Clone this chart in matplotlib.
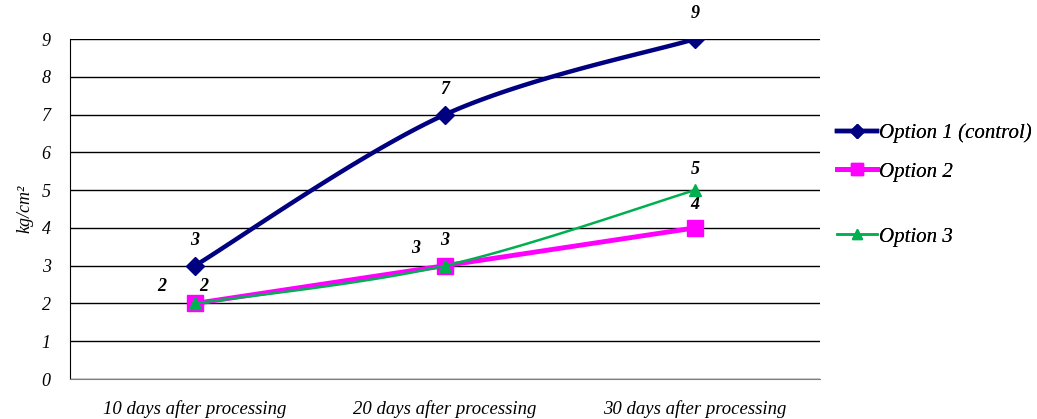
import numpy as np
import matplotlib.pyplot as plt
from matplotlib.lines import Line2D

plt.rcParams['font.family'] = ['Liberation Serif', 'DejaVu Serif']

categories = ["10 days after processing", "20 days after processing", "30 days after processing"]
option1 = [3, 7, 9]
option2 = [2, 3, 4]
option3 = [2, 3, 5]
series_names = ["Option 1 (control)", "Option 2", "Option 3"]


# smooth curve through the points, like a spreadsheet "smoothed line"
def smooth(x, y, n=60, tension=0.5):
    x = np.asarray(x, float)
    y = np.asarray(y, float)
    px = np.concatenate(([x[0]], x, [x[-1]]))
    py = np.concatenate(([y[0]], y, [y[-1]]))
    xs, ys = [], []
    for i in range(1, len(px) - 2):
        p0 = np.array([px[i - 1], py[i - 1]])
        p1 = np.array([px[i], py[i]])
        p2 = np.array([px[i + 1], py[i + 1]])
        p3 = np.array([px[i + 2], py[i + 2]])
        c1 = p1 + (p2 - p0) * tension / 3
        c2 = p2 - (p3 - p1) * tension / 3
        t = np.linspace(0, 1, n)[:, None]
        b = (1 - t) ** 3 * p1 + 3 * (1 - t) ** 2 * t * c1 + 3 * (1 - t) * t ** 2 * c2 + t ** 3 * p2
        xs.append(b[:, 0])
        ys.append(b[:, 1])
    return np.concatenate(xs), np.concatenate(ys)


fig = plt.figure(figsize=(10.37, 4.19), dpi=100)
ax = fig.add_axes([70 / 1037, 40 / 419, 750 / 1037, 340 / 419])

x = np.arange(len(categories))
navy = "#000080"
magenta = "#FF00FF"
green = "#00B050"

sx, sy = smooth(x, option1)
ax.plot(sx, sy, color=navy, lw=3.2, zorder=3)
ax.plot(x, option1, ls="none", marker="D", ms=9, color=navy, zorder=4)

ax.plot(x, option2, color=magenta, lw=3.5, zorder=3)
ax.plot(x, option2, ls="none", marker="s", ms=11, color=magenta, zorder=4)

sx, sy = smooth(x, option3)
ax.plot(sx, sy, color=green, lw=1.8, zorder=5)
ax.plot(x, option3, ls="none", marker="^", ms=9, color=green, zorder=6)

lab = dict(fontsize=13, fontweight="bold", style="italic", ha="center", va="bottom")
for xi, v in zip(x, option1):
    ax.annotate(str(v), (xi, v), xytext=(0, 12), textcoords="offset points", **lab)
offs2 = [(-24, 6), (-21, 6), (0, 11)]
for xi, v, o in zip(x, option2, offs2):
    ax.annotate(str(v), (xi, v), xytext=o, textcoords="offset points", **lab)
offs3 = [(6, 6), (0, 12), (0, 9)]
for xi, v, o in zip(x, option3, offs3):
    ax.annotate(str(v), (xi, v), xytext=o, textcoords="offset points", **lab)

ax.set_xlim(-0.5, 2.5)
ax.set_ylim(0, 9)
ax.set_yticks(range(10))
ax.set_xticks(x)
ax.set_xticklabels(categories, style="italic", fontsize=13.5)
for t in ax.get_yticklabels():
    t.set_style("italic")
    t.set_fontsize(13)
ax.tick_params(axis="both", length=0)
ax.tick_params(axis="x", pad=15)
ax.tick_params(axis="y", pad=14)
ax.yaxis.grid(True, color="black", lw=1)
ax.set_axisbelow(True)
for s in ["top", "right"]:
    ax.spines[s].set_visible(False)
ax.spines["left"].set_color("black")
ax.spines["bottom"].set_color("#808080")
ax.set_ylabel("kg/cm²", style="italic", fontsize=13, labelpad=6)

# legend entries, one per series, at uneven heights
handles = [
    Line2D([], [], color=navy, lw=3.2, marker="D", ms=7),
    Line2D([], [], color=magenta, lw=3.5, marker="s", ms=8),
    Line2D([], [], color=green, lw=1.8, marker="^", ms=7),
]
ys = [133, 172, 237]
for h, name, yy in zip(handles, series_names, ys):
    leg = fig.legend([h], [name], loc="center left",
                     bbox_to_anchor=(827 / 1037, 1 - yy / 419),
                     frameon=False, handlelength=1.9, handletextpad=0.1,
                     borderpad=0, prop=dict(style="italic", size=15))
    fig.add_artist(leg)

fig.savefig("out.png", dpi=100)
